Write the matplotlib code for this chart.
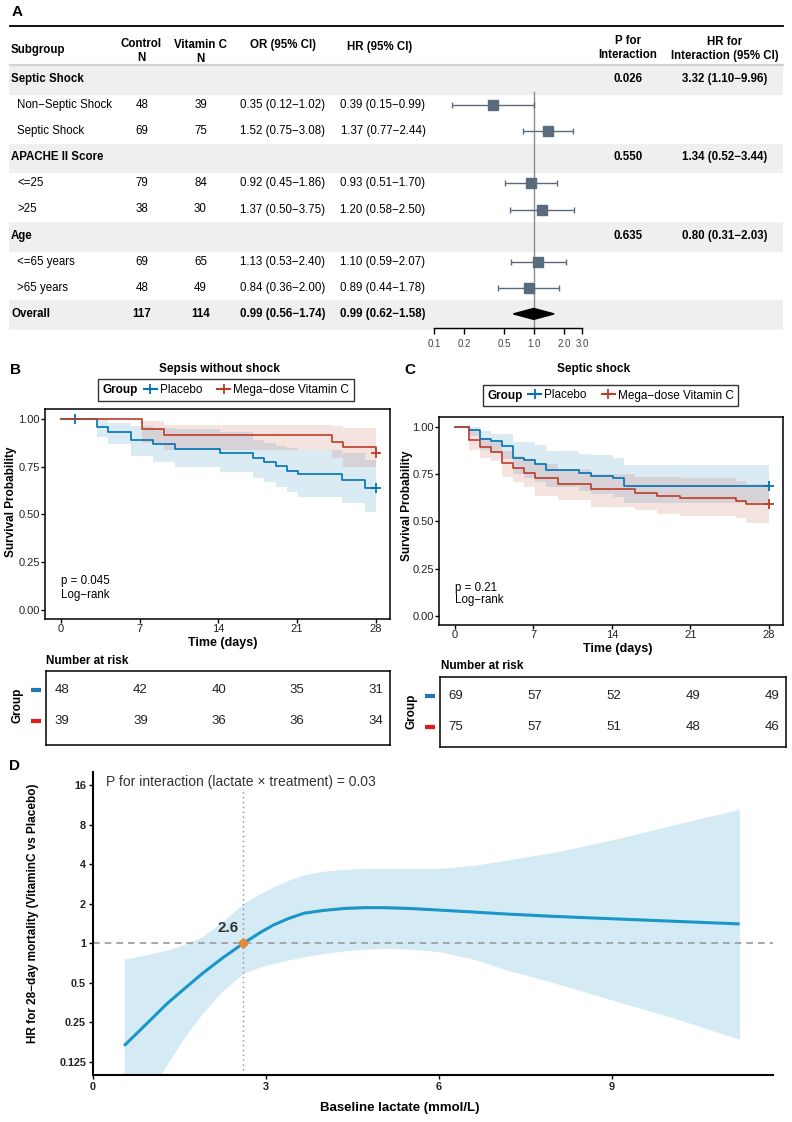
import numpy as np
import matplotlib
matplotlib.use("Agg")
import matplotlib.pyplot as plt
from matplotlib.lines import Line2D
from matplotlib.patches import Rectangle, Polygon
from matplotlib.ticker import NullLocator
from matplotlib.offsetbox import HPacker
from matplotlib.transforms import blended_transform_factory

plt.rcParams['font.family'] = ['Liberation Sans', 'DejaVu Sans']
MINUS = "\u2212"

# ---------------- panel A data ----------------
subgroups = ["Septic Shock", "Non" + MINUS + "Septic Shock", "Septic Shock",
             "APACHE II Score", "<=25", ">25",
             "Age", "<=65 years", ">65 years", "Overall"]
row_kind = ["group", "sub", "sub", "group", "sub", "sub", "group", "sub", "sub", "overall"]
control_n = [None, 48, 69, None, 79, 38, None, 69, 48, 117]
vitc_n = [None, 39, 75, None, 84, 30, None, 65, 49, 114]
or_est = [None, 0.35, 1.52, None, 0.92, 1.37, None, 1.13, 0.84, 0.99]
or_lo = [None, 0.12, 0.75, None, 0.45, 0.50, None, 0.53, 0.36, 0.56]
or_hi = [None, 1.02, 3.08, None, 1.86, 3.75, None, 2.40, 2.00, 1.74]
hr_est = [None, 0.39, 1.37, None, 0.93, 1.20, None, 1.10, 0.89, 0.99]
hr_lo = [None, 0.15, 0.77, None, 0.51, 0.58, None, 0.59, 0.44, 0.62]
hr_hi = [None, 0.99, 2.44, None, 1.70, 2.50, None, 2.07, 1.78, 1.58]
p_interaction = ["0.026", "", "", "0.550", "", "", "0.635", "", "", ""]
hr_interaction = ["3.32 (1.10" + MINUS + "9.96)", "", "", "1.34 (0.52" + MINUS + "3.44)", "", "",
                  "0.80 (0.31" + MINUS + "2.03)", "", "", ""]
forest_ticks = [0.1, 0.2, 0.5, 1.0, 2.0, 3.0]
forest_tick_labels = ["0.1", "0.2", "0.5", "1.0", "2.0", "3.0"]

# ---------------- panel B data (sepsis without shock) ----------------
b_pl_t = [0, 3.23, 4.21, 6.23, 8.16, 10.14, 14.15, 17.1, 18.1, 19.1, 20.1, 21.1, 25.0, 27.05, 28.0]
b_pl_s = [1.0, 0.956, 0.934, 0.89, 0.869, 0.843, 0.82, 0.797, 0.775, 0.754, 0.73, 0.71, 0.682, 0.637, 0.637]
b_pl_lo = [1.0, 0.907, 0.867, 0.808, 0.777, 0.747, 0.72, 0.693, 0.672, 0.642, 0.619, 0.59, 0.559, 0.515, 0.515]
b_pl_hi = [1.0, 0.995, 0.98, 0.965, 0.955, 0.945, 0.93, 0.89, 0.875, 0.86, 0.85, 0.84, 0.82, 0.785, 0.785]
b_pl_cens_t = [1.25, 28.0]
b_pl_cens_s = [1.0, 0.637]
b_vc_t = [0, 7.24, 9.2, 24.1, 25.1, 28.0]
b_vc_s = [1.0, 0.946, 0.916, 0.878, 0.852, 0.824]
b_vc_lo = [1.0, 0.873, 0.838, 0.794, 0.75, 0.75]
b_vc_hi = [1.0, 0.99, 0.97, 0.965, 0.955, 0.955]
b_vc_cens_t = [28.0]
b_vc_cens_s = [0.824]

# ---------------- panel C data (septic shock) ----------------
c_pl_t = [0, 1.24, 2.22, 3.23, 4.21, 5.19, 6.2, 7.17, 8.15, 11.1, 12.1, 14.1, 15.1, 28.0]
c_pl_s = [1.0, 0.981, 0.937, 0.924, 0.898, 0.837, 0.823, 0.806, 0.773, 0.757, 0.742, 0.729, 0.69, 0.69]
c_pl_lo = [1.0, 0.95, 0.88, 0.86, 0.83, 0.75, 0.73, 0.71, 0.68, 0.66, 0.645, 0.63, 0.60, 0.60]
c_pl_hi = [1.0, 1.0, 0.98, 0.962, 0.962, 0.92, 0.92, 0.902, 0.872, 0.858, 0.85, 0.833, 0.80, 0.80]
c_pl_cens_t = [28.0]
c_pl_cens_s = [0.69]
c_vc_t = [0, 1.24, 2.22, 3.23, 4.21, 5.19, 6.2, 7.17, 9.16, 12.1, 16.06, 18.05, 20.06, 25.04, 26.0, 28.0]
c_vc_s = [1.0, 0.932, 0.893, 0.867, 0.811, 0.781, 0.754, 0.728, 0.698, 0.669, 0.653, 0.635, 0.622, 0.608, 0.591, 0.591]
c_vc_lo = [1.0, 0.88, 0.837, 0.82, 0.733, 0.707, 0.681, 0.637, 0.611, 0.577, 0.563, 0.542, 0.53, 0.516, 0.49, 0.49]
c_vc_hi = [1.0, 0.98, 0.941, 0.92, 0.872, 0.846, 0.828, 0.802, 0.776, 0.75, 0.737, 0.733, 0.728, 0.716, 0.698, 0.698]
c_vc_cens_t = [28.0]
c_vc_cens_s = [0.591]

risk_days = [0, 7, 14, 21, 28]
b_risk_pl = [48, 42, 40, 35, 31]
b_risk_vc = [39, 39, 36, 36, 34]
c_risk_pl = [69, 57, 52, 49, 49]
c_risk_vc = [75, 57, 51, 48, 46]

# ---------------- panel D data (lactate interaction) ----------------
lac_x = [0.54, 0.9, 1.29, 1.6, 1.9, 2.25, 2.61, 2.9, 3.13, 3.4, 3.66, 4.0, 4.36, 4.7,
         5.06, 5.5, 5.99, 6.6, 7.17, 8.0, 9.0, 10.1, 11.22]
lac_hr = [0.166, 0.237, 0.349, 0.457, 0.590, 0.774, 1.00, 1.206, 1.376, 1.548, 1.693, 1.778,
          1.840, 1.866, 1.866, 1.840, 1.790, 1.729, 1.670, 1.602, 1.537, 1.469, 1.404]
lac_hi = [0.758, 0.812, 0.889, 0.986, 1.125, 1.464, 2.014, 2.378, 2.694, 3.031, 3.317, 3.531,
          3.656, 3.706, 3.706, 3.706, 3.706, 3.917, 4.287, 4.925, 6.105, 8.0, 10.48]
lac_lo = [0.031, 0.0625, 0.121, 0.196, 0.293, 0.435, 0.590, 0.660, 0.702, 0.747, 0.790, 0.835,
          0.877, 0.901, 0.914, 0.901, 0.865, 0.758, 0.629, 0.5, 0.371, 0.268, 0.186]
lac_cut = 2.6
d_yticks = [0.125, 0.25, 0.5, 1, 2, 4, 8, 16]
d_yticklabels = ["0.125", "0.25", "0.5", "1", "2", "4", "8", "16"]

BLUE = "#0072B5"
RED = "#BC3C29"
SQ = "#5a6b7e"

W, H = 792, 1122
fig = plt.figure(figsize=(W / 100, H / 100), dpi=100)


def px_axes(x0, y0, x1, y1):
    return fig.add_axes([x0 / W, 1 - y1 / H, (x1 - x0) / W, (y1 - y0) / H])


def ftext(x, y, s, **kw):
    fig.text(x / W, 1 - y / H, s, **kw)


def ci_txt(e, l, h):
    return f"{e:.2f} ({l:.2f}{MINUS}{h:.2f})"


# ================= Panel A =================
ftext(12, 12, "A", fontsize=11, fontweight="bold", va="center")
ax_t = px_axes(0, 0, W, 340)
ax_t.set_xlim(0, W)
ax_t.set_ylim(340, 0)
ax_t.axis("off")

row_y = 79 + 26.1 * np.arange(len(subgroups))
for i, y in enumerate(row_y):
    if row_kind[i] != "sub":
        ax_t.add_patch(Rectangle((9, y - 13.5), 774, 29.5, fc="#efefef", ec="none"))
ax_t.plot([10, 783], [25.7, 25.7], color="black", lw=1.3)
ax_t.plot([10, 783], [65.3, 65.3], color="#d2d2d2", lw=1.6)

hdr = dict(fontsize=8.3, fontweight="bold", va="center")
ax_t.text(11, 50, "Subgroup", ha="left", **hdr)
ax_t.text(141, 51, "Control\nN", ha="center", linespacing=1.25, **hdr)
ax_t.text(200.5, 52, "Vitamin C\nN", ha="center", linespacing=1.25, **hdr)
ax_t.text(283, 45, "OR (95% CI)", ha="center", **hdr)
ax_t.text(380, 47, "HR (95% CI)", ha="center", **hdr)
ax_t.text(628, 48, "P for\nInteraction", ha="center", linespacing=1.25, **hdr)
ax_t.text(725, 49, "HR for\nInteraction (95% CI)", ha="center", linespacing=1.25, **hdr)

for i, y in enumerate(row_y):
    kind = row_kind[i]
    bold = "bold" if kind != "sub" else "normal"
    x0 = 11 if kind != "sub" else 17
    ax_t.text(x0, y, subgroups[i], ha="left", va="center", fontsize=8.3, fontweight=bold)
    if control_n[i] is not None:
        ax_t.text(142, y, str(control_n[i]), ha="center", va="center", fontsize=8.3, fontweight=bold)
        ax_t.text(200.5, y, str(vitc_n[i]), ha="center", va="center", fontsize=8.3, fontweight=bold)
        ax_t.text(283, y, ci_txt(or_est[i], or_lo[i], or_hi[i]), ha="center", va="center",
                  fontsize=8.3, fontweight=bold)
        ax_t.text(383, y, ci_txt(hr_est[i], hr_lo[i], hr_hi[i]), ha="center", va="center",
                  fontsize=8.3, fontweight=bold)
    if p_interaction[i]:
        ax_t.text(628, y, p_interaction[i], ha="center", va="center", fontsize=8.3, fontweight="bold")
        ax_t.text(725, y, hr_interaction[i], ha="center", va="center", fontsize=8.3, fontweight="bold")

# forest plot
ax_f = px_axes(434, 66, 582, 328)
ax_f.set_xscale("log")
ax_f.set_xlim(0.1, 3.0)
ax_f.set_ylim((328 - 79) / 26.1, (66 - 79) / 26.1)
ax_f.patch.set_alpha(0)
for sp in ["top", "left", "right"]:
    ax_f.spines[sp].set_visible(False)
ax_f.spines["bottom"].set_linewidth(1.0)
ax_f.set_yticks([])
ax_f.set_xticks(forest_ticks)
ax_f.set_xticklabels(forest_tick_labels)
ax_f.xaxis.set_minor_locator(NullLocator())
ax_f.tick_params(axis="x", length=4, width=1, labelsize=7, labelcolor="#444444", pad=4)
ax_f.plot([1, 1], [0.5, (328 - 79) / 26.1], color="#8c8c8c", lw=1, zorder=1)
for i, kind in enumerate(row_kind):
    if kind == "sub":
        ax_f.errorbar(hr_est[i], i, xerr=[[hr_est[i] - hr_lo[i]], [hr_hi[i] - hr_est[i]]],
                      fmt="s", color=SQ, ms=6.5, elinewidth=1, capsize=2.5, capthick=1, zorder=3)
    elif kind == "overall":
        dx = [hr_lo[i], hr_est[i], hr_hi[i], hr_est[i]]
        dy = [i, i - 0.21, i, i + 0.21]
        ax_f.add_patch(Polygon(list(zip(dx, dy)), closed=True, fc="black", ec="black", zorder=3))


# ================= Panels B and C =================
def set_left_title(leg):
    try:
        old = leg._legend_box
        hp = HPacker(pad=old.pad, sep=4, align="center",
                     children=[leg._legend_title_box, leg._legend_handle_box])
        hp.set_figure(fig)
        hp.axes = leg.axes
        hp.set_offset(leg._findoffset)
        leg._legend_box = hp
    except Exception:
        pass


def km_panel(box, series, ptext, pos):
    ax = px_axes(*box)
    for t, s, lo, hi, ct, cs, col in series:
        ax.fill_between(t, lo, hi, step="post", color=col, alpha=0.14, lw=0)
    for t, s, lo, hi, ct, cs, col in series:
        ax.step(t, s, where="post", color=col, lw=1.2)
        ax.plot(ct, cs, "+", color=col, ms=7, mew=1.3)
    ax.set_xlim(-1.42, 29.27)
    ax.set_ylim(-0.047, 1.052)
    ax.set_xticks(risk_days)
    ax.set_yticks([0, 0.25, 0.5, 0.75, 1.0])
    ax.set_yticklabels(["0.00", "0.25", "0.50", "0.75", "1.00"])
    ax.tick_params(length=3, width=1, labelsize=8, labelcolor="#222222", pad=0.8)
    for sp in ax.spines.values():
        sp.set_linewidth(1.1)
    ax.text(0, pos[0], ptext, ha="left", va="center", fontsize=8.3)
    ax.text(0, pos[1], "Log" + MINUS + "rank", ha="left", va="center", fontsize=8.3)
    return ax


def risk_table(box, pl, vc, dash_x0, dash_x1):
    ax = px_axes(*box)
    y0, y1 = box[1], box[3]
    r0 = box[1] + 19
    ax.set_xlim(-1.42, 29.27)
    ax.set_ylim((y1 - r0) / 31, (y0 - r0) / 31)
    ax.set_xticks([])
    ax.set_yticks([])
    for sp in ax.spines.values():
        sp.set_linewidth(1.1)
    for d, a, b in zip(risk_days, pl, vc):
        ax.text(d, 0, str(a), ha="center", va="center", fontsize=9.5, color="#222222")
        ax.text(d, 1, str(b), ha="center", va="center", fontsize=9.5, color="#222222")
    tr = blended_transform_factory(ax.transAxes, ax.transData)
    w = box[2] - box[0]
    for row, col in [(0, "#1f78b4"), (1, "#e31a1c")]:
        ax.plot([(dash_x0 - box[0]) / w, (dash_x1 - box[0]) / w], [row, row], color=col,
                lw=3, transform=tr, clip_on=False, solid_capstyle="butt")
    return ax


legend_handles = [Line2D([], [], color=BLUE, marker="+", lw=1.5, ms=7, mew=1.3),
                  Line2D([], [], color=RED, marker="+", lw=1.5, ms=7, mew=1.3)]
legend_labels = ["Placebo", "Mega" + MINUS + "dose Vitamin C"]


def km_legend(cx, cy):
    leg = fig.legend(legend_handles, legend_labels, title="Group", ncol=2, loc="center",
                     bbox_to_anchor=(cx / W, 1 - cy / H), frameon=True, fancybox=False,
                     edgecolor="black", fontsize=8.5,
                     title_fontproperties={"weight": "bold", "size": 8.5},
                     handlelength=1.1, handletextpad=0.25, columnspacing=1.3, borderpad=0.4)
    leg.get_frame().set_linewidth(1.0)
    set_left_title(leg)
    return leg


# Panel B
ftext(10, 370, "B", fontsize=11, fontweight="bold", va="center")
ftext(219, 369, "Sepsis without shock", fontsize=8.5, fontweight="bold", ha="center", va="center")
km_legend(226, 390)
km_panel((45, 409, 390, 619),
         [(b_pl_t, b_pl_s, b_pl_lo, b_pl_hi, b_pl_cens_t, b_pl_cens_s, BLUE),
          (b_vc_t, b_vc_s, b_vc_lo, b_vc_hi, b_vc_cens_t, b_vc_cens_s, RED)],
         "p = 0.045", (0.153, 0.079))
ftext(11.5, 502, "Survival Probability", fontsize=8.5, fontweight="bold", rotation=90,
      ha="center", va="center")
ftext(223, 643, "Time (days)", fontsize=9, fontweight="bold", ha="center", va="center")
ftext(46, 661, "Number at risk", fontsize=8.5, fontweight="bold", ha="left", va="center")
risk_table((46, 671, 390, 745), b_risk_pl, b_risk_vc, 31, 40.5)
ftext(18, 705, "Group", fontsize=8.5, fontweight="bold", rotation=90, ha="center", va="center")

# Panel C
ftext(404, 370, "C", fontsize=11, fontweight="bold", va="center")
ftext(594, 369, "Septic shock", fontsize=8.5, fontweight="bold", ha="center", va="center")
km_legend(610.5, 395.5)
km_panel((439, 417, 783, 625),
         [(c_pl_t, c_pl_s, c_pl_lo, c_pl_hi, c_pl_cens_t, c_pl_cens_s, BLUE),
          (c_vc_t, c_vc_s, c_vc_lo, c_vc_hi, c_vc_cens_t, c_vc_cens_s, RED)],
         "p = 0.21", (0.148, 0.085))
ftext(406.5, 506, "Survival Probability", fontsize=8.5, fontweight="bold", rotation=90,
      ha="center", va="center")
ftext(618, 649, "Time (days)", fontsize=9, fontweight="bold", ha="center", va="center")
ftext(440.5, 666, "Number at risk", fontsize=8.5, fontweight="bold", ha="left", va="center")
risk_table((440, 677, 786, 747), c_risk_pl, c_risk_vc, 425, 435)
ftext(411, 711, "Group", fontsize=8.5, fontweight="bold", rotation=90, ha="center", va="center")

# ================= Panel D =================
ftext(9, 766, "D", fontsize=11, fontweight="bold", va="center")
ax_d = px_axes(93, 772, 773, 1075)
ax_d.set_yscale("log", base=2)
ax_d.fill_between(lac_x, lac_lo, lac_hi, color="#d4ebf5", lw=0)
ax_d.plot(lac_x, lac_hr, color="#1a96c8", lw=2.2, solid_capstyle="butt")
ax_d.axhline(1, color="#9a9a9a", ls=(0, (4, 3)), lw=1.2)
ax_d.axvline(lac_cut, ymax=0.945, color="#8a8a8a", ls=(0, (1, 2.5)), lw=1)
ax_d.plot([lac_cut], [1], "o", color="#e8873a", ms=5.5, zorder=5)
ax_d.text(lac_cut - 0.25, 1.31, f"{lac_cut:.1f}", ha="center", va="center", fontsize=11,
          fontweight="bold", color="#333333")
ax_d.text(0.23, 16.9, "P for interaction (lactate \u00d7 treatment) = 0.03", ha="left",
          va="center", fontsize=10, color="#333333")
ax_d.set_xlim(0, 11.8)
ax_d.set_ylim(0.0995, 20.1)
ax_d.set_xticks([0, 3, 6, 9])
ax_d.set_yticks(d_yticks)
ax_d.set_yticklabels(d_yticklabels)
ax_d.yaxis.set_minor_locator(NullLocator())
for lab in ax_d.get_xticklabels() + ax_d.get_yticklabels():
    lab.set_fontweight("bold")
ax_d.tick_params(length=3, width=1, labelsize=7.8, labelcolor="#222222", pad=2)
for sp in ["top", "right"]:
    ax_d.spines[sp].set_visible(False)
for sp in ["left", "bottom"]:
    ax_d.spines[sp].set_linewidth(1.5)
ftext(33, 913, "HR for 28" + MINUS + "day mortality (VitaminC vs Placebo)", fontsize=8.5,
      fontweight="bold", rotation=90, ha="center", va="center")
ftext(400, 1108, "Baseline lactate (mmol/L)", fontsize=9.5, fontweight="bold",
      ha="center", va="center")

fig.savefig("out.png", dpi=100)
